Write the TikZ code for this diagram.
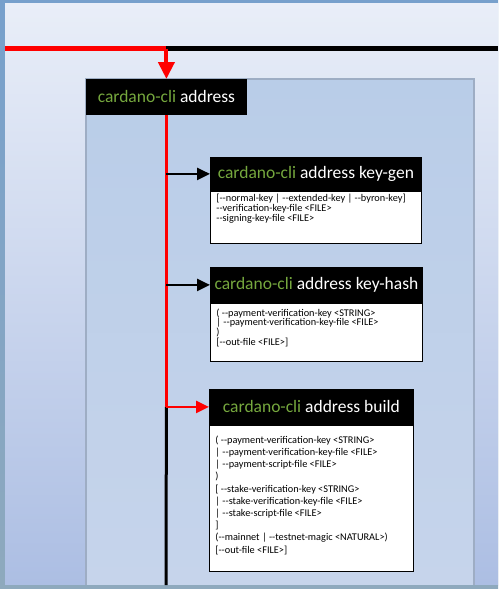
\documentclass[tikz,border=0pt]{standalone}
\usepackage{fontspec}
\setmainfont{Carlito}
\usetikzlibrary{arrows.meta}
\definecolor{cligreen}{HTML}{76A83E}
\definecolor{frameblue}{HTML}{77A0CC}
\definecolor{panelborder}{HTML}{9EADC4}
\definecolor{bgtop}{HTML}{E9EEF8}
\definecolor{bgbot}{HTML}{ACBEE3}
\definecolor{pantop}{HTML}{B9CDE8}
\definecolor{panbot}{HTML}{C6D4EB}
\definecolor{strip}{HTML}{8EA9BD}
\tikzset{
  hdr/.style={fill=black, draw=black, line width=0.8pt, anchor=north west, text=white,
    font=\fontsize{17.5}{20}\selectfont, inner sep=0pt},
  bodybox/.style={fill=white, draw=black, line width=0.8pt, anchor=north west,
    font=\fontsize{10.3}{10}\selectfont, inner xsep=6pt, inner ysep=2.5pt},
  redline/.style={draw=red, line width=4.5pt},
  blackline/.style={draw=black, line width=4.5pt},
  brancharrow/.style={line width=2.6pt, -{Triangle[length=13pt,width=12pt]}},
}
\newcommand\clihead[1]{{\color{cligreen}cardano-cli} #1}
% width, height, top space, line spacing, text
\newcommand\bodytext[5]{\parbox[c][#2][t]{#1}{\fontsize{10.3}{#4}\selectfont\raggedright\vspace*{#3}#5\par}}
\begin{document}
\begin{tikzpicture}[x=1pt,y=-1pt]
\useasboundingbox (0,0) rectangle (498,589);
% frame and background
\shade[top color=frameblue, bottom color=strip] (0,0) rectangle (498,589);
\shade[top color=bgtop, bottom color=bgbot] (5,3) rectangle (498,585);
% big panel
\shade[top color=pantop, bottom color=panbot, draw=panelborder, line width=2pt] (86,79) rectangle (474,586);
\fill[strip] (0,585) rectangle (498,589);
% nodes
\node[hdr, minimum width=160pt, minimum height=35pt] (addr) at (86,79) {\clihead{address}};
\node[hdr, minimum width=211pt, minimum height=33pt] (kg) at (210,157) {\clihead{address key-gen}};
\node[bodybox] (kgb) at (kg.south west) {\bodytext{199pt}{47pt}{0pt}{10pt}{%
[-{}-normal-key | -{}-extended-key | -{}-byron-key]\\
-{}-verification-key-file <FILE>\\
-{}-signing-key-file <FILE>}};
\node[hdr, minimum width=212pt, minimum height=35pt] (kh) at (210,267) {\clihead{address key-hash}};
\node[bodybox] (khb) at (kh.south west) {\bodytext{200pt}{53pt}{3pt}{9.7pt}{%
( -{}-payment-verification-key <STRING>\\
| -{}-payment-verification-key-file <FILE>\\
)\\{}%
[-{}-out-file <FILE>]}};
\node[hdr, minimum width=204pt, minimum height=35pt] (bd) at (209,389) {\clihead{address build}};
\node[bodybox] (bdb) at (bd.south west) {\bodytext{192pt}{141pt}{8pt}{12.2pt}{%
( -{}-payment-verification-key <STRING>\\
| -{}-payment-verification-key-file <FILE>\\
| -{}-payment-script-file <FILE>\\
)\\{}%
[ -{}-stake-verification-key <STRING>\\
| -{}-stake-verification-key-file <FILE>\\
| -{}-stake-script-file <FILE>\\
]\\
(-{}-mainnet | -{}-testnet-magic <NATURAL>)\\{}%
[-{}-out-file <FILE>]}};
% connectors
\coordinate (tl) at (5,48.5);
\coordinate (tr) at (498,48.5);
\coordinate (jn) at (addr.north |- tl);
\coordinate (bend) at (addr.south |- bd.west);
\coordinate (bot) at (166,585);
\draw[blackline] (jn) -- (tr);
\draw[redline] (tl) -- (jn);
\draw[red, line width=4pt, -{Triangle[length=17pt,width=16pt]}] (jn) -- (addr.north);
\draw[black, line width=3pt] (bend) -- (bot);
\draw[red, line width=2.8pt] (addr.south) -- (bend);
\draw[brancharrow, black] (addr.south |- kg.west) -- (kg.west);
\draw[brancharrow, black] (addr.south |- kh.west) -- (kh.west);
\draw[brancharrow, red] (bend) -- (bd.west);
\end{tikzpicture}
\end{document}
